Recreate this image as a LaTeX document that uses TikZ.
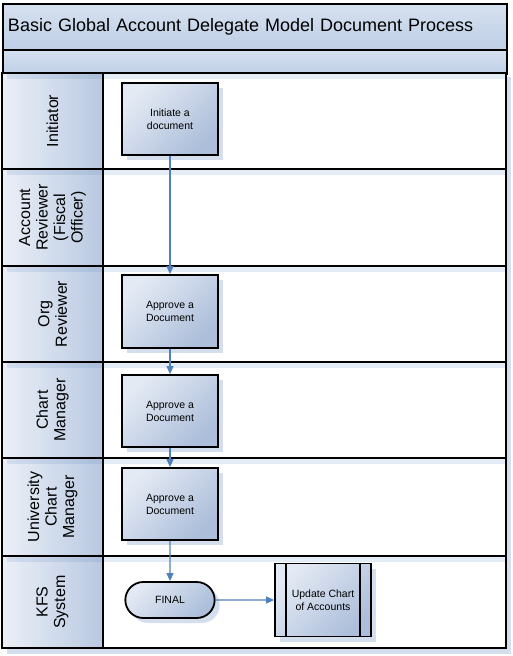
\documentclass[tikz,border=0pt]{standalone}
\usepackage{fontspec}
\setmainfont{Liberation Sans}
\usetikzlibrary{calc,positioning,shapes,shadows,arrows.meta}
\definecolor{bandtop}{RGB}{214,225,240}
\definecolor{bandbot}{RGB}{190,206,230}
\definecolor{boxlight}{RGB}{228,234,244}
\definecolor{boxdark}{RGB}{172,190,218}
\definecolor{headlight}{RGB}{236,240,247}
\definecolor{headdark}{RGB}{184,200,225}
\definecolor{flowblue}{RGB}{79,129,189}
\definecolor{shadowblue}{RGB}{212,222,236}

\begin{document}
\begin{tikzpicture}[x=1pt,y=-1pt,
	band/.style={draw, line width=2pt, top color=bandtop, bottom color=bandbot, inner sep=5pt},
	task/.style={draw, line width=1.8pt, top color=boxlight, bottom color=boxdark, shading angle=45,
		minimum width=96pt, minimum height=72pt, align=center, font=\fontsize{10.5}{13}\selectfont,
		drop shadow={shadow xshift=5pt, shadow yshift=-5pt, fill=shadowblue, opacity=1}},
	flow/.style={draw=flowblue, line width=1.1pt, -{Triangle[length=8pt,width=7pt]}}]
	\useasboundingbox (0,0) rectangle (513,656);
	\fill[shadowblue] (7,77) rectangle (511,654);
	\node[band, anchor=north west, text width=494pt, minimum height=46pt, align=left,
		font=\fontsize{18}{22}\selectfont] (ttl) at (2,3) {Basic Global Account Delegate Model Document Process};
	\node[band, anchor=north west, minimum width=504pt, minimum height=24pt] (sub) at (2,49) {};
	\foreach \top/\bot/\name [count=\i] in {73/169/Initiator, 169/266/{Account\\Reviewer\\(Fiscal\\Officer)},
		266/362/{Org\\Reviewer}, 362/458/{Chart\\Manager}, 458/556/{University\\Chart\\Manager},
		556/648/{KFS\\System}}{
	\shade[left color=headlight, right color=headdark] (2,\top) rectangle (103,\bot);
	\fill[white] (103,\top) rectangle (506,\bot);
	\fill[flowblue, opacity=.15] (7,\top+1) rectangle (506,\top+6);
	\node[rotate=90, align=center, font=\fontsize{16}{17.5}\selectfont] (head\i) at (52.5,{(\top+\bot)/2}) {\name};
	\draw[line width=2pt] (2,\top) rectangle (103,\bot) (103,\top) rectangle (506,\bot);
	}
	\node[task] at (170,119) (init) {Initiate a\\document};
	\node[task, minimum height=73pt] at (170,311.5) (orgrev) {Approve a\\Document};
	\node[task] at (170,411) (chartmgr) {Approve a\\Document};
	\node[task] at (170,504) (univmgr) {Approve a\\Document};
	\node[task, rounded rectangle, minimum height=36pt] at (170,600) (final) {FINAL};
	\node[task, minimum height=73pt] at (323,600) (upd) {Update Chart\\of Accounts};
	\draw[line width=1.8pt] ($(upd.north west)+(12,0)$) -- ($(upd.south west)+(12,0)$);
	\draw[line width=1.8pt] ($(upd.north east)+(-12,0)$) -- ($(upd.south east)+(-12,0)$);
	\draw[flow] (init) -- (orgrev);
	\draw[flow] (orgrev) -- (chartmgr);
	\draw[flow] (chartmgr) -- (univmgr);
	\draw[flow] (univmgr) -- (final);
	\draw[flow] (final) -- (upd);
\end{tikzpicture}
\end{document}
